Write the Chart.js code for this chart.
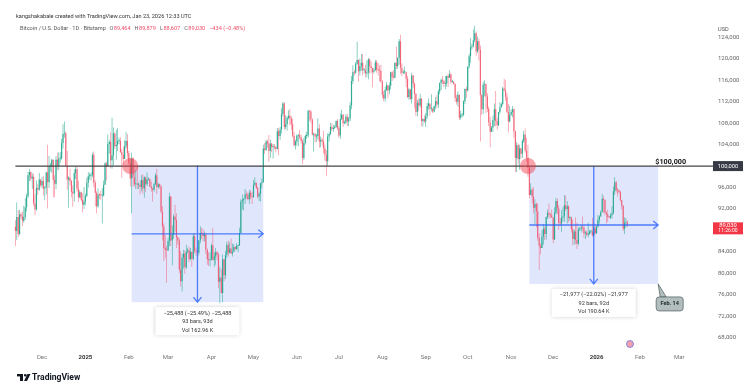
<!DOCTYPE html>
<html>
<head>
<meta charset="utf-8">
<script src="https://cdn.jsdelivr.net/npm/chart.js@4.4.1/dist/chart.umd.min.js"></script>
<style>
  html, body { margin: 0; padding: 0; background: #fff; }
  #wrap { width: 750px; height: 390px; }
</style>
</head>
<body>
<div id="wrap"><canvas id="btcChart" width="750" height="390"></canvas></div>
<script>
// BTC/USD daily candles (Bitstamp), prices in thousands of USD
const firstDate = '2024-11-12';
const firstOpen = 88.7;

const closes = [
  // Nov 2024 (from 12th)
  87.9,90.5,87.3,91.0,90.6,89.8,90.5,92.3,94.3,98.3, 98.9,97.7,98.0,93.0,91.9,95.9,95.6,97.5,96.4,
  // Dec 2024
  97.2,95.8,96.0,98.8,97.0,99.9,99.9,101.2,97.4,96.7, 101.2,100.0,101.4,101.4,104.3,106.0,106.1,100.0,97.5,97.8,
  97.2,95.2,94.9,98.7,99.4,95.8,94.2,95.1,93.7,92.8, 93.4,
  // Jan 2025
  94.4,96.9,98.1,98.2,98.3,102.1,96.9,95.0,92.5,94.7, 94.6,94.5,94.5,96.5,100.5,99.9,104.1,104.5,101.1,102.0,
  106.1,103.7,104.0,104.7,104.7,102.6,102.1,101.3,103.7,104.7, 102.4,
  // Feb
  100.6,97.7,101.4,97.9,96.6,96.6,96.5,96.5,96.1,97.4, 95.8,97.9,96.6,97.5,97.6,96.2,95.8,95.6,96.6,98.3,
  96.1,96.6,96.2,91.5,88.7,84.7,84.4,84.3,
  // Mar
  86.0,94.3,86.1,87.2,90.6,89.9,86.7,86.1,80.7,78.5, 82.9,83.7,81.1,84.0,84.3,82.6,84.0,82.7,86.9,84.2,
  84.0,83.8,86.1,87.5,87.4,86.9,87.2,84.4,82.6,82.4, 82.5,
  // Apr
  85.2,82.5,83.1,83.9,83.5,78.4,79.2,76.3,82.6,79.6, 83.4,85.3,83.8,84.6,83.7,84.0,84.9,84.5,85.1,85.2,
  87.5,93.4,93.7,93.9,94.7,94.6,93.8,95.0,94.3,94.2,
  // May
  96.5,96.9,95.9,94.3,94.8,96.8,97.0,103.3,103.0,104.6, 104.2,102.8,104.2,103.5,103.7,103.5,103.2,106.5,105.6,106.8,
  109.7,111.7,107.3,107.8,109.0,109.4,108.9,107.8,105.6,103.9, 104.6,
  // Jun
  105.7,105.8,105.4,104.7,101.5,104.3,105.6,105.7,110.3,110.2, 108.7,105.9,106.0,105.5,105.6,107.0,104.6,104.9,104.6,103.3,
  102.1,100.9,105.5,106.0,107.3,106.9,107.1,107.3,108.4,107.1,
  // Jul
  105.7,108.8,109.6,108.0,108.2,109.2,108.3,108.9,111.3,115.9, 117.5,117.4,119.1,119.8,117.7,118.7,119.3,117.9,117.9,117.3,
  117.4,119.9,118.7,118.3,117.6,117.9,119.4,118.0,117.9,117.8, 115.8,
  // Aug
  113.3,112.6,114.2,115.1,114.1,115.0,117.5,116.6,116.5,119.3, 118.7,120.2,123.3,118.3,117.4,117.5,117.5,116.3,112.9,114.3,
  112.5,116.9,115.4,113.5,110.1,111.8,111.3,112.6,108.4,108.8, 108.3,
  // Sep
  109.3,111.2,111.7,110.7,110.7,110.2,111.2,112.1,111.5,113.9, 115.5,116.1,115.9,115.3,115.4,116.8,116.5,117.1,115.7,115.7,
  115.3,112.7,112.0,113.3,109.0,109.6,109.6,112.1,114.4,114.1,
  // Oct
  118.6,120.5,122.2,122.4,123.5,124.8,121.4,123.3,121.7,113.2, 110.6,115.2,115.3,113.0,110.7,108.2,106.4,107.2,108.6,110.6,
  108.4,107.6,110.1,111.0,111.6,114.5,114.1,112.9,110.1,108.3, 109.6,
  // Nov
  110.1,110.6,106.5,101.5,103.9,101.3,103.3,102.3,104.7,105.9, 102.9,101.6,99.7,94.6,95.6,94.3,92.2,92.9,91.5,86.6,
  85.1,84.7,86.8,88.3,87.3,90.5,91.3,90.9,90.8,90.4,
  // Dec
  86.3,91.3,93.5,92.1,89.4,89.3,90.4,90.6,92.7,92.0, 92.5,90.3,90.3,88.2,86.4,87.8,86.2,85.5,88.1,88.3,
  88.6,88.5,87.4,87.6,87.2,87.3,87.8,87.8,87.1,88.4, 87.5,
  // Jan 2026 (to 23rd)
  88.7,90.0,90.6,91.4,93.9,93.7,91.3,91.0,90.5,90.4, 90.8,91.2,95.3,97.0,95.6,95.5,95.1,93.6,92.6,88.3,
  89.4,89.464,89.03
];

const highs = [
  89.9,93.2,91.8,91.8,91.4,91.5,92.6,94.0,94.9,98.9, 99.5,99.0,98.6,98.6,94.7,97.3,96.6,98.7,97.5,
  98.0,98.1,96.3,99.0,104.0,101.9,100.6,101.4,101.2,98.3, 101.9,102.5,102.6,102.6,105.1,107.8,108.3,106.5,102.8,98.1,
  99.5,97.4,96.4,99.4,99.9,99.9,97.3,95.5,95.2,94.9, 96.1,
  94.9,97.8,98.9,98.7,98.8,102.5,102.7,97.3,95.3,95.8, 94.9,95.4,95.9,97.3,100.7,100.8,105.9,104.9,106.3,109.0,
  107.2,106.3,106.8,107.1,105.3,105.4,103.2,103.7,104.8,106.4, 106.0,
  102.8,101.5,102.5,101.7,99.0,99.2,100.1,96.9,97.3,98.3, 98.5,98.1,98.0,98.8,97.9,97.7,97.1,96.0,96.9,98.7,
  99.5,96.9,96.7,96.5,92.5,89.3,87.1,85.1,
  86.6,95.0,94.4,88.9,91.0,92.8,91.2,86.9,86.5,84.1, 83.6,84.4,84.3,85.3,84.7,85.0,84.7,84.0,87.4,87.4,
  84.8,84.4,86.2,88.7,88.5,88.3,87.8,87.5,84.6,83.9, 83.9,
  85.5,88.5,83.9,84.7,84.2,83.8,81.2,80.8,83.5,82.7, 84.2,85.9,86.1,85.8,86.5,85.5,85.5,85.1,85.6,85.3,
  88.5,93.8,94.7,94.0,95.7,95.3,95.0,95.6,95.5,95.2,
  97.4,97.9,96.9,96.2,95.2,96.9,97.7,104.0,104.3,104.9, 104.9,105.8,104.9,104.3,104.1,104.1,103.7,107.1,107.1,107.3,
  110.8,112.0,111.9,109.5,109.3,110.4,110.7,109.3,108.9,106.3, 104.9,
  105.9,105.9,106.8,105.9,105.0,105.3,105.9,106.4,110.5,110.4, 110.4,108.9,106.2,106.2,106.0,108.9,107.8,105.5,105.3,106.6,
  104.0,103.0,106.1,106.3,108.1,108.0,107.7,107.6,108.5,108.8,
  107.5,109.8,110.5,109.7,108.5,109.7,109.7,109.2,111.9,116.8, 118.8,118.0,119.4,123.2,119.9,120.1,120.9,120.9,118.3,118.9,
  119.7,120.2,120.1,119.5,118.1,118.3,119.8,119.8,119.2,118.8, 118.9,
  116.0,114.0,114.8,115.7,115.1,115.6,117.6,117.7,117.9,119.3, 122.3,120.3,123.7,124.5,119.2,117.9,118.6,117.6,116.8,114.6,
  114.4,117.4,117.0,115.6,113.6,112.4,112.6,113.5,112.7,108.9, 109.5,
  109.9,111.8,112.6,111.7,113.4,110.9,111.3,112.9,113.2,114.3, 115.6,116.3,116.8,116.1,116.8,116.9,117.3,117.9,117.4,116.1,
  115.9,115.4,113.3,113.9,113.3,110.3,109.8,112.3,114.5,114.8,
  118.6,121.0,123.9,122.9,125.5,126.2,125.1,124.2,123.8,122.5, 113.4,115.8,116.0,115.0,113.6,111.1,109.2,107.5,109.4,111.7,
  114.0,109.0,110.1,111.9,111.8,114.8,116.3,116.0,113.6,111.6, 111.2,
  110.6,111.2,110.8,106.6,104.5,104.2,104.0,103.4,105.0,106.6, 107.0,105.3,104.0,99.9,96.8,96.0,96.0,93.8,93.2,93.0,
  87.5,85.6,88.0,89.2,88.7,90.6,91.9,93.0,91.2,91.9,
  90.4,92.3,94.1,94.0,92.7,90.3,91.8,92.3,94.6,94.5, 93.5,92.7,90.6,90.6,90.0,88.2,90.4,89.4,88.6,88.6,
  89.0,90.6,88.9,87.9,88.0,89.4,88.0,88.1,90.3,89.3, 89.1,
  88.8,90.9,90.8,91.7,94.8,94.4,93.7,91.5,91.9,90.7, 91.2,92.5,96.2,97.9,97.2,95.9,95.6,95.4,93.4,92.7,
  90.4,90.3,89.879
];

const lows = [
  85.1,86.2,86.7,87.1,90.1,88.8,89.4,90.0,91.5,94.1, 97.2,97.2,95.7,92.6,90.8,91.7,94.6,95.4,96.1,
  95.8,94.5,93.6,94.7,92.1,95.9,99.0,98.7,94.2,94.2, 95.7,99.3,99.2,100.6,101.2,103.3,105.3,100.0,95.6,92.2,
  96.4,94.2,92.4,93.4,97.6,95.2,93.3,94.0,93.4,91.4, 92.0,
  92.7,94.2,96.0,97.5,97.3,97.9,96.1,92.5,91.2,92.2, 93.8,93.7,89.3,94.3,96.5,97.3,99.9,102.3,99.6,99.5,
  100.1,103.2,101.2,102.8,104.1,102.5,97.8,100.3,101.3,103.3, 101.6,
  100.3,96.2,91.2,96.2,96.2,95.7,95.7,95.7,94.7,95.3, 94.9,94.1,95.2,96.3,97.3,96.1,95.2,93.4,95.2,96.4,
  94.8,95.8,95.8,91.2,86.1,82.3,82.8,78.2,
  84.2,85.1,85.1,81.5,86.4,87.8,84.7,85.3,80.0,77.5, 76.6,80.9,79.9,80.8,83.7,82.1,82.5,81.2,82.4,83.7,
  83.2,83.7,83.3,85.6,86.4,85.9,85.9,83.6,81.6,81.4, 81.3,
  82.4,82.3,81.2,81.6,82.4,77.2,74.4,76.2,74.6,78.5, 78.9,82.8,83.1,83.7,83.6,83.1,83.9,84.3,84.4,83.9,
  85.1,87.6,91.9,91.7,92.9,93.9,93.6,92.9,93.8,92.9,
  94.1,96.3,95.7,94.0,93.5,93.4,95.8,96.9,102.3,102.8, 103.4,100.8,101.5,102.6,101.4,103.1,102.6,103.1,102.0,104.9,
  106.1,109.3,106.8,106.9,106.6,108.7,107.6,106.8,105.4,103.6, 103.1,
  103.8,103.7,105.0,104.2,100.4,101.1,104.0,105.1,105.3,108.4, 108.1,105.7,102.7,104.4,104.5,105.0,103.4,103.5,103.9,102.4,
  101.0,98.2,100.0,104.6,105.8,106.6,106.4,106.9,107.2,106.7,
  105.3,105.1,108.6,107.3,107.8,107.8,107.5,107.5,108.4,110.6, 115.3,116.9,117.3,118.9,115.8,116.9,117.8,116.9,117.3,116.6,
  116.6,116.2,117.3,117.3,114.7,117.3,117.8,117.4,116.9,115.8, 115.6,
  112.7,112.1,112.0,114.0,112.7,113.4,114.3,115.9,116.3,116.5, 118.1,118.2,118.9,117.2,116.8,117.2,117.2,114.7,112.7,112.4,
  112.4,111.7,114.6,110.8,109.3,109.3,110.3,110.9,107.4,107.4, 108.1,
  107.3,108.8,110.5,109.4,110.2,109.9,110.0,110.6,110.8,110.9, 113.4,114.2,115.3,114.8,114.4,114.8,114.8,116.5,115.3,115.5,
  115.2,112.0,111.5,111.1,108.6,108.7,109.1,109.3,111.6,112.7,
  113.9,118.2,119.3,121.7,122.2,123.1,120.6,121.1,119.7,104.6, 109.6,109.7,113.0,109.9,110.1,107.5,103.5,106.4,106.4,107.5,
  107.4,106.8,107.5,109.7,110.9,111.3,114.0,112.2,109.9,106.3, 108.2,
  109.4,109.1,105.3,98.9,98.9,100.3,99.3,101.4,101.5,104.3, 102.5,100.8,98.0,94.0,94.6,93.0,91.2,89.2,88.6,86.1,
  80.6,83.5,84.7,85.3,86.2,86.3,90.1,90.2,90.3,90.3,
  85.6,86.2,91.0,91.0,88.1,88.9,87.7,89.6,89.6,91.6, 89.3,89.5,89.8,87.6,85.2,85.3,85.4,84.5,85.2,87.9,
  87.6,87.9,86.6,86.4,86.9,86.7,87.2,87.4,86.8,86.9, 87.2,
  87.3,88.5,89.3,90.6,91.4,91.3,90.8,89.3,89.6,90.3, 90.1,90.2,91.0,94.6,95.0,94.3,94.9,93.4,91.9,87.9,
  87.3,88.6,88.607
];

// time axis labels (first day of each month) and price axis ticks
const monthTicks = [
  ['2024-12-01', 'Dec'], ['2025-01-01', '2025'], ['2025-02-01', 'Feb'], ['2025-03-01', 'Mar'],
  ['2025-04-01', 'Apr'], ['2025-05-01', 'May'], ['2025-06-01', 'Jun'], ['2025-07-01', 'Jul'],
  ['2025-08-01', 'Aug'], ['2025-09-01', 'Sep'], ['2025-10-01', 'Oct'], ['2025-11-01', 'Nov'],
  ['2025-12-01', 'Dec'], ['2026-01-01', '2026'], ['2026-02-01', 'Feb'], ['2026-03-01', 'Mar']
];
const priceTicks = [68, 72, 76, 80, 84, 88, 92, 96, 100, 104, 108, 112, 116, 120, 124];

// drawings
const levelPrice = 100;
const touchDates = ['2025-02-02', '2025-11-13'];
const ranges = [
  { from: '2025-02-03', to: '2025-05-08', top: 100.1, bottom: 74.6,
    lines: ['\u221225,488 (\u221225.49%) \u221225,488', '93 bars, 93d', 'Vol 162.96 K'] },
  { from: '2025-11-14', to: '2026-02-14', top: 100.0, bottom: 78.0,
    lines: ['\u221221,977 (\u221222.02%) \u221221,977', '92 bars, 92d', 'Vol 190.64 K'] }
];
const viewFrom = '2024-11-01';
const viewTo = '2026-03-23';

const FONT = 'Roboto, "Liberation Sans", sans-serif';
const UP = 'rgba(30,165,140,0.85)';
const DOWN = 'rgba(240,70,95,0.72)';

const day = s => (Date.parse(s + 'T00:00:00Z') - Date.parse('2025-01-01T00:00:00Z')) / 86400000;
const fmt = v => Math.round(v).toString().replace(/\B(?=(\d{3})+(?!\d))/g, ',');

const start = day(firstDate);
const bodies = [], wicks = [], colors = [];
closes.forEach((c, i) => {
  const o = i === 0 ? firstOpen : closes[i - 1];
  bodies.push({ x: start + i, y: [o, c] });
  wicks.push({ x: start + i, y: [Math.min(lows[i], o, c), Math.max(highs[i], o, c)] });
  colors.push(c >= o ? UP : DOWN);
});

const overlay = {
  id: 'overlay',
  beforeDatasetsDraw(chart) {
    const { ctx, scales: { x, y } } = chart;
    ctx.save();
    ctx.fillStyle = 'rgba(50,90,235,0.15)';
    ranges.forEach(r => {
      const x1 = x.getPixelForValue(day(r.from)), x2 = x.getPixelForValue(day(r.to));
      const y1 = y.getPixelForValue(r.top), y2 = y.getPixelForValue(r.bottom);
      ctx.fillRect(x1, y1, x2 - x1, y2 - y1);
    });
    ctx.restore();
  },
  afterDatasetsDraw(chart) {
    const { ctx, chartArea, scales: { x, y } } = chart;
    ctx.save();
    const ly = y.getPixelForValue(levelPrice);

    // measure arrows and info boxes
    ranges.forEach((r, k) => {
      const x1 = x.getPixelForValue(day(r.from)), x2 = x.getPixelForValue(day(r.to));
      const y1 = y.getPixelForValue(r.top), y2 = y.getPixelForValue(r.bottom);
      const xm = (x1 + x2) / 2, ym = (y1 + y2) / 2;
      ctx.strokeStyle = 'rgba(41,98,255,0.8)';
      ctx.lineWidth = 1.3;
      ctx.beginPath();
      ctx.moveTo(xm, y1); ctx.lineTo(xm, y2);
      ctx.moveTo(xm - 4, y2 - 5); ctx.lineTo(xm, y2); ctx.lineTo(xm + 4, y2 - 5);
      ctx.moveTo(x1, ym); ctx.lineTo(x2, ym);
      ctx.moveTo(x2 - 5, ym - 4); ctx.lineTo(x2, ym); ctx.lineTo(x2 - 5, ym + 4);
      ctx.stroke();

      const bw = 84, bh = 28, bx = xm - bw / 2, by = y2 + 5;
      ctx.shadowColor = 'rgba(0,0,0,0.18)';
      ctx.shadowBlur = 4;
      ctx.fillStyle = '#fff';
      ctx.fillRect(bx, by, bw, bh);
      ctx.shadowBlur = 0;
      ctx.shadowColor = 'transparent';
      ctx.fillStyle = '#333';
      ctx.font = '5.6px ' + FONT;
      ctx.textAlign = 'center';
      ctx.textBaseline = 'middle';
      r.lines.forEach((t, j) => ctx.fillText(t, xm, by + 6 + j * 8.5));

      if (k === 1) {
        // date callout
        const cx = x2 - 2, cy = y2 + 13;
        ctx.fillStyle = 'rgba(165,178,178,0.85)';
        ctx.strokeStyle = '#5d6b6b';
        ctx.lineWidth = 0.8;
        ctx.beginPath();
        ctx.moveTo(x2, y2);
        ctx.lineTo(cx + 10, cy);
        ctx.lineTo(cx + 4, cy);
        ctx.closePath();
        ctx.fill(); ctx.stroke();
        ctx.beginPath();
        ctx.roundRect(cx, cy, 27, 14, 3);
        ctx.fill(); ctx.stroke();
        ctx.fillStyle = '#1e2929';
        ctx.font = 'bold 5.6px ' + FONT;
        ctx.fillText('Feb. 14', cx + 13.5, cy + 7);
      }
    });

    // $100,000 level
    ctx.strokeStyle = '#444';
    ctx.lineWidth = 1.4;
    ctx.beginPath();
    ctx.moveTo(x.getPixelForValue(start), ly);
    ctx.lineTo(chartArea.right + 3, ly);
    ctx.stroke();
    ctx.fillStyle = '#111';
    ctx.font = 'bold 7.2px ' + FONT;
    ctx.textAlign = 'right';
    ctx.textBaseline = 'bottom';
    ctx.fillText('$100,000', 686, ly - 0.5);

    // touch markers
    ctx.fillStyle = 'rgba(242,54,69,0.45)';
    touchDates.forEach(d => {
      ctx.beginPath();
      ctx.arc(x.getPixelForValue(day(d)), ly, 8, 0, Math.PI * 2);
      ctx.fill();
    });
    ctx.restore();
  },
  afterDraw(chart) {
    const { ctx, scales: { y } } = chart;
    ctx.save();
    ctx.textBaseline = 'middle';

    // header
    ctx.textAlign = 'left';
    ctx.fillStyle = '#333';
    ctx.font = '5.6px ' + FONT;
    ctx.fillText('kangshakabale created with TradingView.com, Jan 23, 2026 12:33 UTC', 16, 17);
    let hx = 20;
    const seg = (t, c, gap) => { ctx.fillStyle = c; ctx.fillText(t, hx, 29); hx += ctx.measureText(t).width + gap; };
    seg('Bitcoin / U.S. Dollar \u00b7 1D \u00b7 Bitstamp', '#555', 3.5);
    seg('O', '#666', 0.5); seg('89,464', '#f0506a', 4);
    seg('H', '#666', 0.5); seg('89,879', '#f0506a', 4);
    seg('L', '#666', 0.5); seg('88,607', '#f0506a', 4);
    seg('C', '#666', 0.5); seg('89,030', '#f0506a', 4);
    seg('\u2212434 (\u22120.48%)', '#f0506a', 0);

    // price scale badges
    ctx.fillStyle = '#555';
    ctx.fillText('USD', 718, 30);
    const ly = y.getPixelForValue(levelPrice);
    ctx.fillStyle = '#363a45';
    ctx.fillRect(713, ly - 5, 30, 10);
    ctx.fillStyle = '#fff';
    ctx.textAlign = 'center';
    ctx.font = '5.8px ' + FONT;
    ctx.fillText('100,000', 728, ly);
    const last = closes[closes.length - 1];
    const py = y.getPixelForValue(last);
    ctx.fillStyle = '#f23645';
    ctx.fillRect(713, py - 2.5, 30, 12);
    ctx.fillStyle = '#fff';
    ctx.fillText(fmt(last * 1000), 728, py + 0.8);
    ctx.font = '5px ' + FONT;
    ctx.fillText('11:26:00', 728, py + 6.3);

    // event flag
    ctx.fillStyle = 'rgba(240,150,170,0.9)';
    ctx.strokeStyle = 'rgba(90,110,230,0.7)';
    ctx.lineWidth = 1;
    ctx.beginPath();
    ctx.arc(630, 344, 3.5, 0, Math.PI * 2);
    ctx.fill(); ctx.stroke();

    // logo
    ctx.fillStyle = '#131722';
    ctx.fillRect(17, 374, 6, 2.4);
    ctx.fillRect(20, 374, 3, 7);
    ctx.beginPath();
    ctx.arc(25.3, 375.3, 1.3, 0, Math.PI * 2);
    ctx.fill();
    ctx.beginPath();
    ctx.moveTo(27.5, 374); ctx.lineTo(30.5, 374); ctx.lineTo(27, 381); ctx.lineTo(24, 381);
    ctx.closePath();
    ctx.fill();
    ctx.textAlign = 'left';
    ctx.font = 'bold 8.6px ' + FONT;
    ctx.fillText('TradingView', 32, 378);
    ctx.restore();
  }
};

const ctx = document.getElementById('btcChart').getContext('2d');
new Chart(ctx, {
  type: 'bar',
  data: {
    datasets: [
      { data: wicks, backgroundColor: colors, barThickness: 0.6, grouped: false, order: 2, inflateAmount: 0 },
      { data: bodies, backgroundColor: colors, barThickness: 1.2, grouped: false, order: 1, inflateAmount: 0, minBarLength: 1 }
    ]
  },
  options: {
    responsive: false,
    animation: false,
    events: [],
    layout: { padding: { top: 20, left: 0, right: 0, bottom: 22 } },
    plugins: { legend: { display: false }, tooltip: { enabled: false } },
    scales: {
      x: {
        type: 'linear',
        min: day(viewFrom),
        max: day(viewTo),
        offset: false,
        grid: { display: false, drawTicks: false, offset: false },
        border: { display: false },
        afterBuildTicks: s => { s.ticks = monthTicks.map(m => ({ value: day(m[0]) })); },
        afterFit: s => { s.height = 20; },
        ticks: {
          autoSkip: false,
          maxRotation: 0,
          padding: 6,
          color: c => (monthTicks[c.index] && /^\d{4}$/.test(monthTicks[c.index][1])) ? '#333' : '#777',
          font: c => ({ family: FONT, size: 6,
            weight: (monthTicks[c.index] && /^\d{4}$/.test(monthTicks[c.index][1])) ? 'bold' : 'normal' }),
          callback: (v, i) => monthTicks[i] ? monthTicks[i][1] : ''
        }
      },
      y: {
        position: 'right',
        min: 66.04,
        max: 127.27,
        grid: { display: false, drawTicks: false },
        border: { display: false },
        afterBuildTicks: s => { s.ticks = priceTicks.map(v => ({ value: v })); },
        afterFit: s => { s.width = 40; },
        ticks: {
          padding: 8,
          color: '#666',
          font: { family: FONT, size: 6 },
          callback: v => fmt(v * 1000)
        }
      }
    }
  },
  plugins: [overlay]
});
</script>
</body>
</html>
